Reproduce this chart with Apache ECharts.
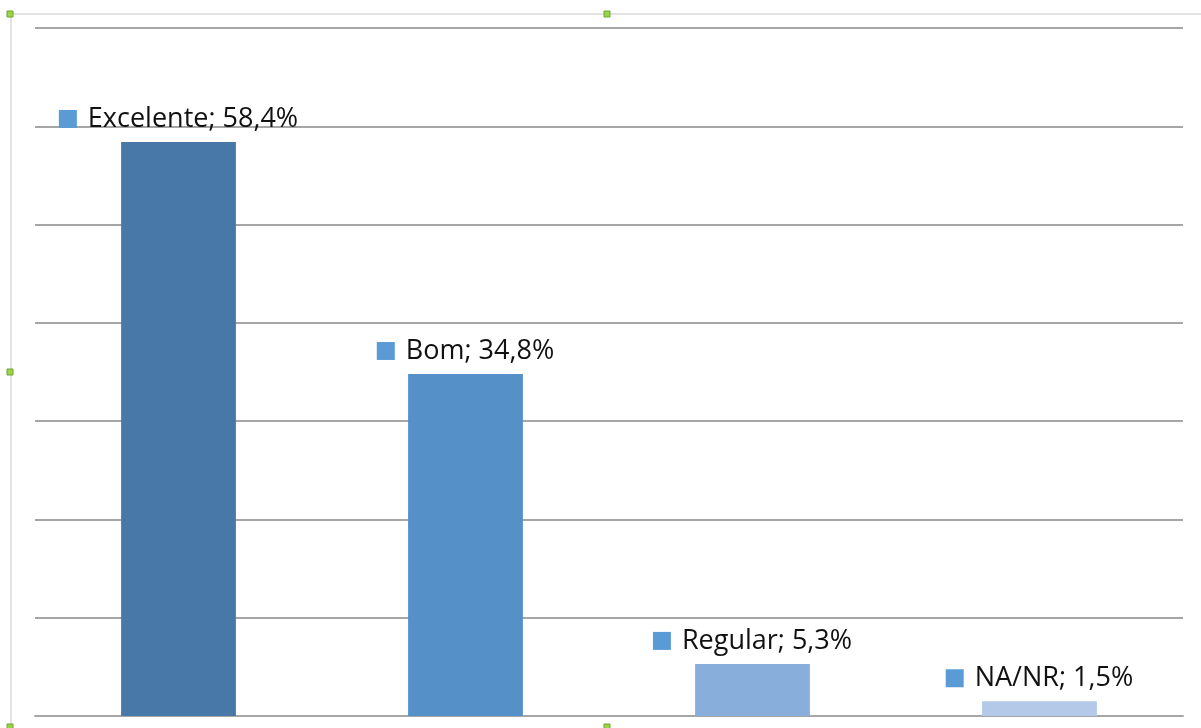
<!DOCTYPE html>
<html><head><meta charset="utf-8">
<script src="https://cdn.jsdelivr.net/npm/echarts@6/dist/echarts.min.js"></script>
<style>html,body{margin:0;padding:0;background:#fff}#c{width:1201px;height:728px}</style>
</head><body><div id="c"></div>
<script>
var categories = ['Excelente', 'Bom', 'Regular', 'NA/NR'];
var values = [58.4, 34.8, 5.3, 1.5];
var valueLabels = ['58,4%', '34,8%', '5,3%', '1,5%'];
var barColors = ['#4878A8', '#5590C9', '#88AEDC', '#B4C9E7'];
var yMax = 70, yInterval = 10;

var chart = echarts.init(document.getElementById('c'));
var handle = function(x, y) {
  return {type: 'rect', shape: {x: x - 3, y: y - 3, width: 6, height: 6},
    style: {fill: '#9BD44A', stroke: '#6AA628', lineWidth: 1}, z: 100};
};
chart.setOption({
  animation: false,
  grid: {left: 35, right: 18, top: 28, bottom: 12, containLabel: false},
  xAxis: {type: 'category', data: categories,
    axisLine: {show: true, lineStyle: {color: '#A6A6A6', width: 2}},
    axisTick: {show: false}, axisLabel: {show: false}},
  yAxis: {type: 'value', min: 0, max: yMax, interval: yInterval,
    axisLine: {show: false}, axisTick: {show: false}, axisLabel: {show: false},
    splitLine: {lineStyle: {color: '#A6A6A6', width: 2}}},
  series: [{
    type: 'bar', barWidth: '40%',
    data: values.map(function(v, i) { return {value: v, itemStyle: {color: barColors[i]}}; }),
    label: {show: true, position: 'top', distance: 7,
      formatter: function(p) { return '{sq|}{t|' + categories[p.dataIndex] + '; ' + valueLabels[p.dataIndex] + '}'; },
      rich: {
        sq: {backgroundColor: '#5B9BD5', width: 18, height: 18, align: 'left', verticalAlign: 'middle'},
        t: {fontFamily: 'Open Sans', fontSize: 27, lineHeight: 32, color: '#111', padding: [0, 0, 0, 11], verticalAlign: 'middle'}
      }}
  }],
  graphic: [
    {type: 'line', shape: {x1: 10, y1: 14, x2: 1201, y2: 14}, style: {stroke: '#C8C8C8', lineWidth: 1}},
    {type: 'line', shape: {x1: 11, y1: 14, x2: 11, y2: 728}, style: {stroke: '#C8C8C8', lineWidth: 1}},
    handle(10, 14), handle(607, 14), handle(10, 372), handle(10, 727), handle(607, 727)
  ]
});
</script></body></html>
